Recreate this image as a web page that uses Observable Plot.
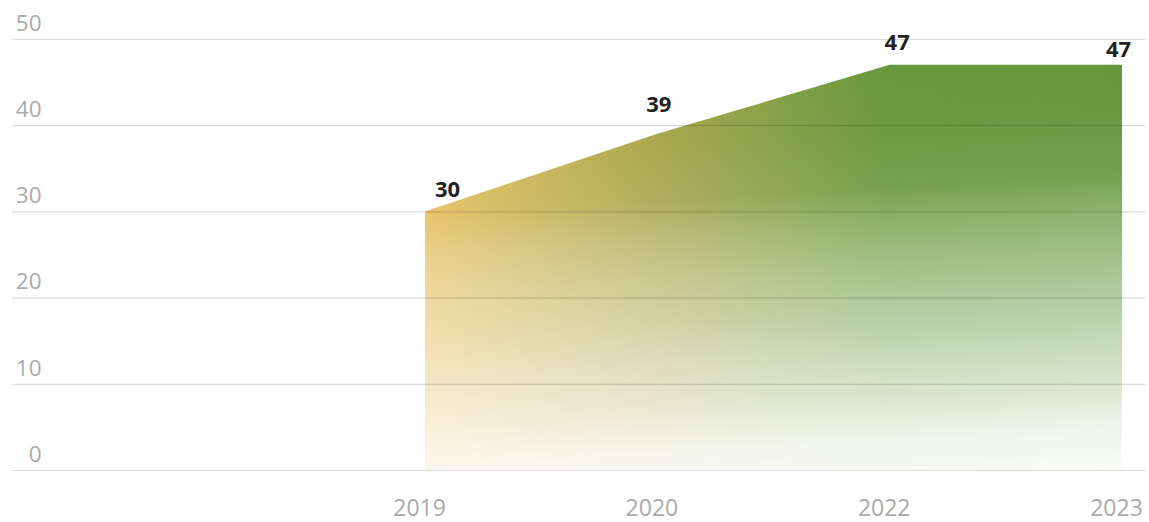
<!DOCTYPE html>
<html>
<head>
<meta charset="utf-8">
<script src="https://cdn.jsdelivr.net/npm/d3@7"></script>
<script src="https://cdn.jsdelivr.net/npm/@observablehq/plot@0.6"></script>
<style>
  html, body { margin: 0; padding: 0; background: #fff; }
  #chart svg { display: block; }
</style>
</head>
<body>
<div id="chart"></div>
<script>
const years = ["2019", "2020", "2022", "2023"];
const values = [30, 39, 47, 47];
const yTicks = [0, 10, 20, 30, 40, 50];

const data = years.map((year, i) => ({ i, year, value: values[i] }));

function gradientDefs() {
  const defs = d3.create("svg:defs");
  const h = defs.append("linearGradient").attr("id", "hgrad")
    .attr("x1", 0).attr("y1", 0).attr("x2", 1).attr("y2", 0);
  [[0, "#e6bf5f"], [0.33, "#a8a64c"], [0.66, "#68983b"], [1, "#63973b"]].forEach(([o, c]) =>
    h.append("stop").attr("offset", o).attr("stop-color", c));
  const v = defs.append("linearGradient").attr("id", "vfade")
    .attr("x1", 0).attr("y1", 0).attr("x2", 0.12).attr("y2", 1.12);
  [[0, 0], [0.2, 0.03], [0.33, 0.1], [0.41, 0.26], [0.5, 0.39], [0.6, 0.51],
   [0.69, 0.63], [0.79, 0.76], [0.88, 0.9], [1, 0.98]].forEach(([o, a]) =>
    v.append("stop").attr("offset", o).attr("stop-color", "#ffffff").attr("stop-opacity", a));
  return defs.node();
}

const labelStyle = { fontSize: 22, fontWeight: "bold", fill: "#222", x: "i", y: "value", text: d => String(d.value) };
const labelNudges = [[22, -22], [1, -29], [7, -22], [-4, -15]];

const chart = Plot.plot({
  width: 1149,
  height: 522,
  marginLeft: 12,
  marginRight: 4,
  marginTop: 39,
  marginBottom: 52,
  x: { type: "linear", domain: [-1.778, 3.099], axis: null },
  y: { domain: [0, 50], axis: null },
  style: { fontFamily: "'Open Sans', sans-serif", background: "#fff" },
  marks: [
    gradientDefs,
    Plot.areaY(data, { x: "i", y: "value", fill: "url(#hgrad)" }),
    Plot.areaY(data, { x: "i", y: "value", fill: "url(#vfade)" }),
    Plot.ruleY(yTicks, { stroke: "#000", strokeOpacity: 0.145, strokeWidth: 1.2 }),
    Plot.text(yTicks, { y: d => d, text: d => String(d), frameAnchor: "left", textAnchor: "end", dx: 29, dy: -16, fill: "#aaaaaa", fontSize: 22.5 }),
    Plot.text(data, { x: "i", text: "year", frameAnchor: "bottom", lineAnchor: "top", dy: 29, dx: -6, fill: "#aaaaaa", fontSize: 23 }),
    ...labelNudges.map(([dx, dy], k) =>
      Plot.text(data.filter(d => d.i === k), { ...labelStyle, dx, dy }))
  ]
});

document.getElementById("chart").append(chart);
</script>
</body>
</html>
